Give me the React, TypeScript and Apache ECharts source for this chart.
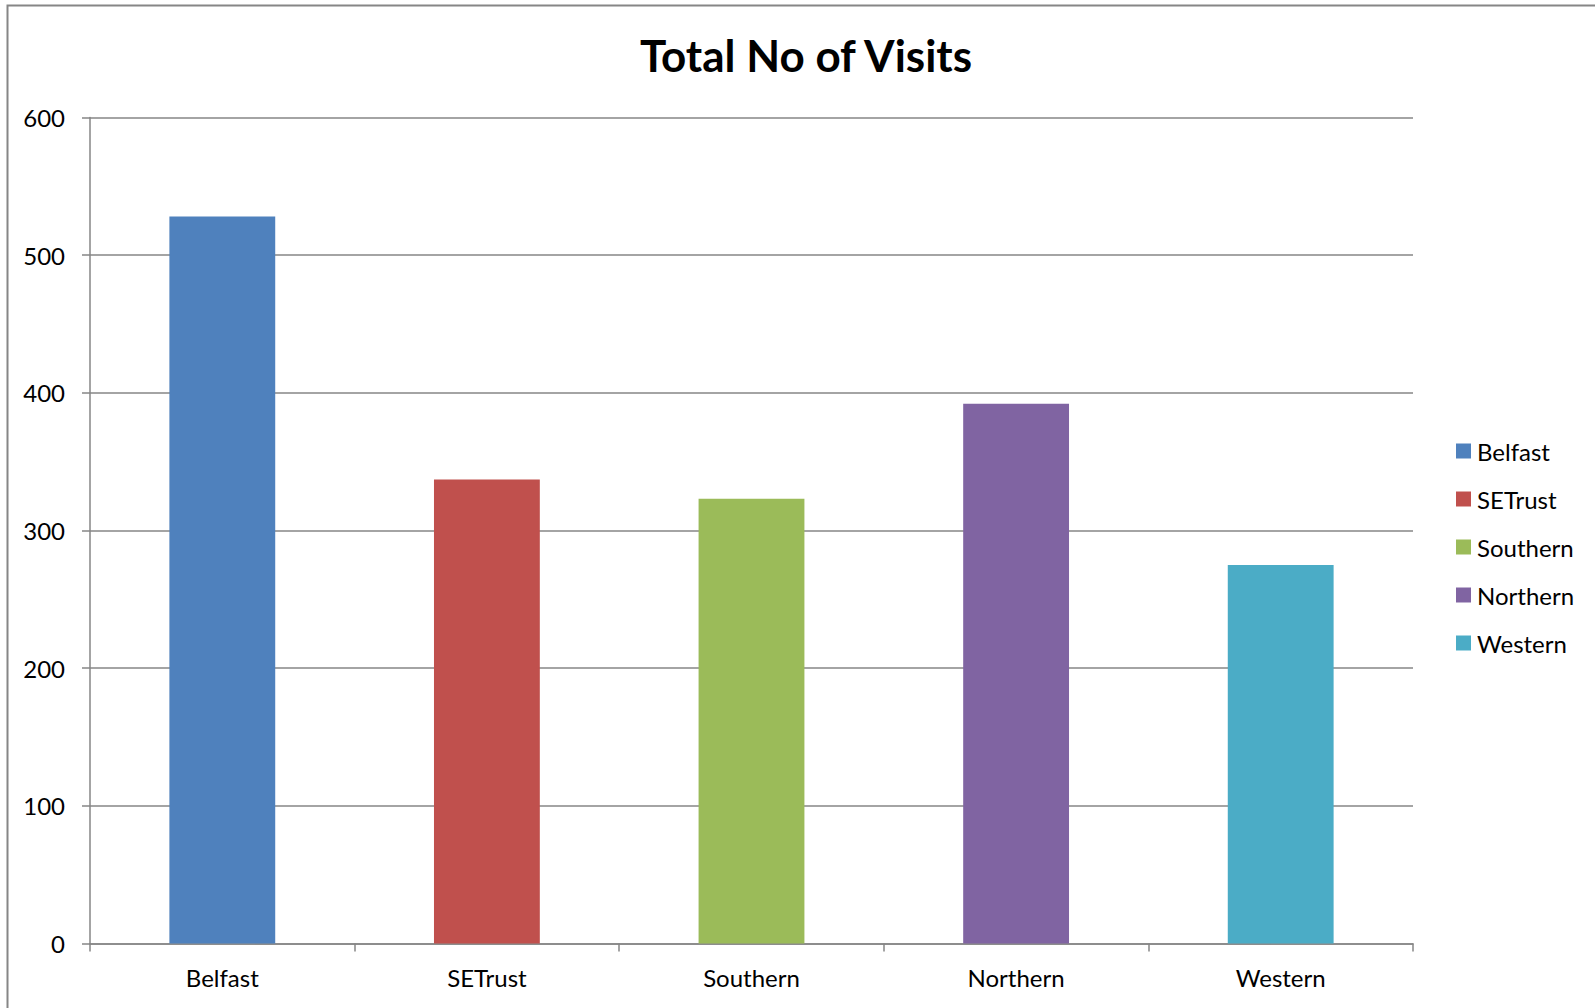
import React, { useEffect, useRef } from "react";
import * as echarts from "echarts";

const categories = ["Belfast", "SETrust", "Southern", "Northern", "Western"];
const values = [528, 337, 323, 392, 275];
const colors = ["#4F81BD", "#C0504D", "#9BBB59", "#8064A2", "#4BACC6"];
const yTicks = { min: 0, max: 600, interval: 100 };
const titleText = "Total No of Visits";

export default function App() {
  const ref = useRef<HTMLDivElement>(null);
  useEffect(() => {
    if (!ref.current) return;
    const chart = echarts.init(ref.current, undefined, { renderer: "svg" });
    const font = "Lato, 'DejaVu Sans', sans-serif";
    const series = categories.map((name, i) => ({
      name,
      type: "bar",
      stack: "total",
      barWidth: "40%",
      itemStyle: { color: colors[i] },
      data: categories.map((_, j) => (j === i ? values[i] : "-")),
    }));
    chart.setOption({
      animation: false,
      backgroundColor: "#ffffff",
      title: {
        text: titleText,
        left: 801,
        textAlign: "center",
        top: 28,
        textStyle: { fontFamily: font, fontWeight: "bold", fontSize: 44, color: "#000" },
      },
      grid: { left: 90, right: 182, top: 117.5, bottom: 64.5, containLabel: false },
      legend: {
        orient: "vertical",
        left: 1451,
        top: 434,
        itemWidth: 15,
        itemHeight: 15,
        itemGap: 24,
        icon: "rect",
        textStyle: { fontFamily: font, fontSize: 24, color: "#000", padding: [0, 0, 0, 1] },
        data: categories,
      },
      xAxis: {
        type: "category",
        data: categories,
        axisLine: { lineStyle: { color: "#868686", width: 1.5 } },
        axisTick: { show: true, length: 8, lineStyle: { color: "#868686", width: 1.5 } },
        axisLabel: { fontFamily: font, fontSize: 24, color: "#000", margin: 22 },
      },
      yAxis: {
        type: "value",
        min: yTicks.min,
        max: yTicks.max,
        interval: yTicks.interval,
        axisLine: { show: true, lineStyle: { color: "#868686", width: 1.5 } },
        axisTick: { show: true, length: 8, lineStyle: { color: "#868686", width: 1.5 } },
        axisLabel: { fontFamily: font, fontSize: 24, color: "#000", margin: 25 },
        splitLine: { show: true, lineStyle: { color: "#868686", width: 1.5 } },
      },
      graphic: [
        {
          type: "rect",
          shape: { x: 7.5, y: 5.5, width: 1700, height: 1100 },
          style: { fill: "none", stroke: "#868686", lineWidth: 2 },
          silent: true,
        },
      ],
      series,
    });
    return () => chart.dispose();
  }, []);
  return (
    <div
      ref={ref}
      style={{ position: "fixed", left: 0, top: 0, width: 1595, height: 1008 }}
    />
  );
}
